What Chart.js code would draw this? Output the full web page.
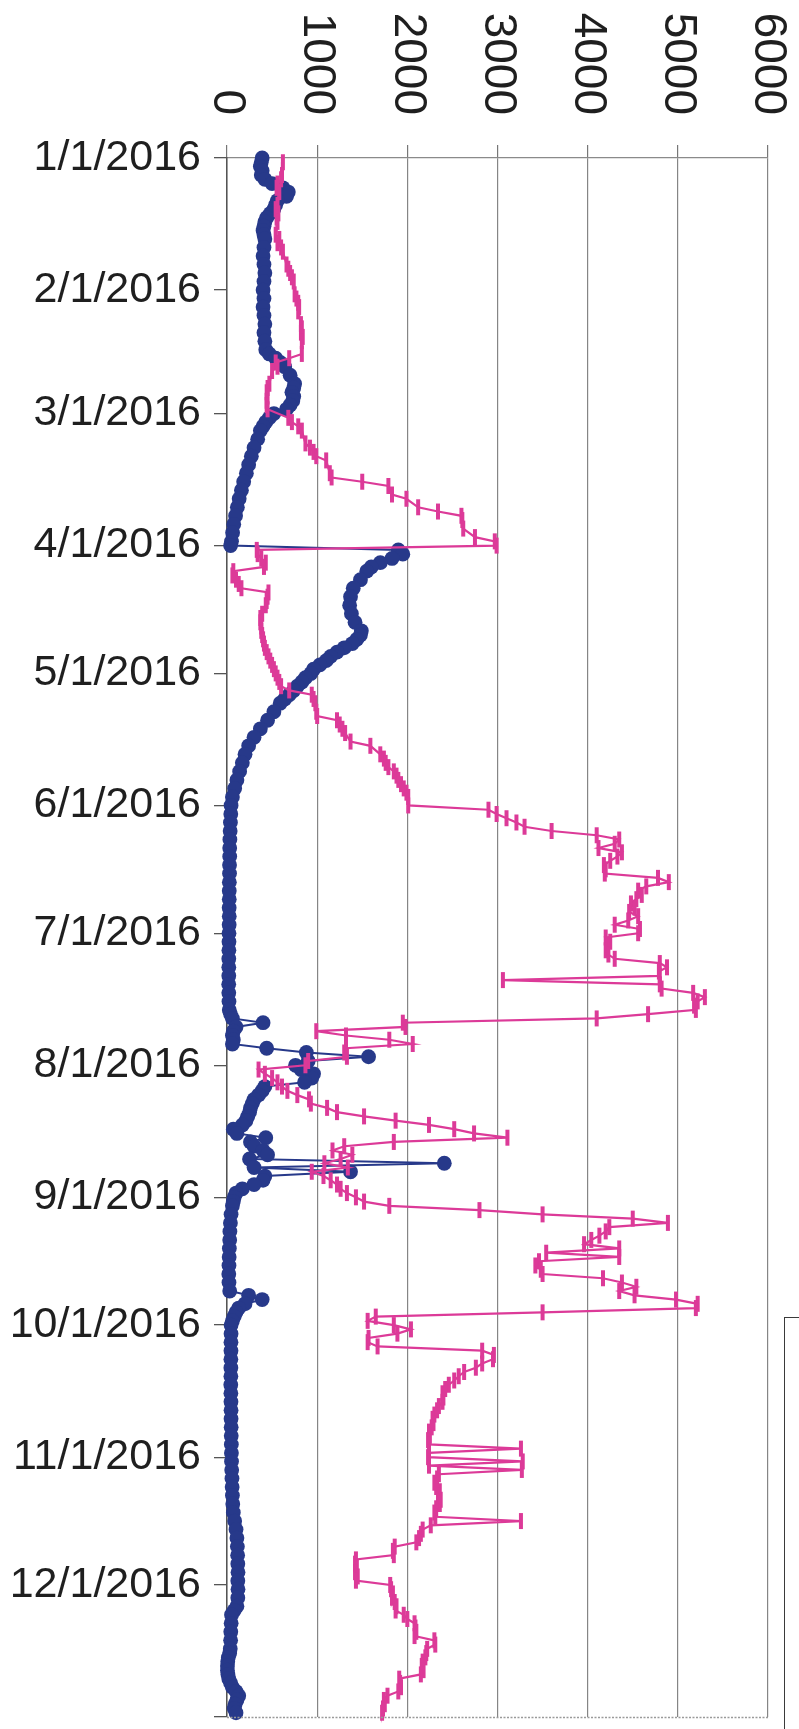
<!DOCTYPE html>
<html>
<head>
<meta charset="utf-8">
<script src="https://cdn.jsdelivr.net/npm/chart.js@4.4.1/dist/chart.umd.min.js"></script>
<style>
  html, body { margin: 0; padding: 0; background: #ffffff; }
  #wrap { position: relative; width: 799px; height: 1729px; overflow: hidden; }
  canvas { display: block; }
  #legendBox { position: absolute; left: 784px; top: 1317px; width: 60px; height: 500px; border: 1.5px solid #3a3a3a; background: #fff; }
</style>
</head>
<body>
<div id="wrap">
  <canvas id="c" width="799" height="1729"></canvas>
  <div id="legendBox"></div>
</div>
<script>
// ---- DATA ----
const YEAR = 2016;
const monthTickLabels = ['1/1/2016','2/1/2016','3/1/2016','4/1/2016','5/1/2016','6/1/2016',
  '7/1/2016','8/1/2016','9/1/2016','10/1/2016','11/1/2016','12/1/2016'];
const valueTicks = [0, 1000, 2000, 3000, 4000, 5000, 6000];

const blueDates = ['1/1','1/2','1/3','1/4','1/5','1/6','1/7','1/8','1/9','1/10','1/11','1/12','1/13','1/14','1/15','1/16','1/17','1/18','1/19','1/20','1/22','1/24','1/26','1/28','1/30',
  '2/1','2/3','2/5','2/7','2/9','2/11','2/13','2/15','2/16','2/17','2/18','2/19','2/21','2/23','2/24','2/25','2/26','2/27','2/28','2/29',
  '3/1','3/2','3/3','3/4','3/5','3/7','3/9','3/11','3/13','3/15','3/17','3/19','3/21','3/23','3/25','3/27','3/29','3/31',
  '4/1','4/2','4/3','4/4','4/5','4/6','4/7','4/9','4/11','4/13','4/15','4/17','4/19','4/21','4/22','4/23','4/24','4/25','4/26','4/27','4/28','4/29','4/30',
  '5/1','5/2','5/3','5/4','5/5','5/6','5/7','5/8','5/10','5/12','5/14','5/16','5/18','5/20','5/22','5/24','5/26','5/28','5/30',
  '6/1','6/3','6/5','6/7','6/9','6/11','6/13','6/15','6/17','6/19','6/21','6/23','6/25','6/27','6/29',
  '7/1','7/3','7/5','7/7','7/9','7/11','7/13','7/15','7/17','7/19','7/20','7/21','7/22','7/23','7/24','7/25','7/26','7/27','7/28','7/29','7/30','7/31',
  '8/1','8/2','8/3','8/4','8/5','8/6','8/7','8/8','8/9','8/10','8/11','8/12','8/13','8/14','8/15','8/16','8/17','8/18','8/19','8/20','8/21','8/22','8/23','8/24','8/25','8/26','8/27','8/28','8/29','8/30','8/31',
  '9/1','9/2','9/3','9/5','9/7','9/9','9/11','9/13','9/15','9/17','9/19','9/21','9/23','9/24','9/25','9/26','9/27','9/28','9/29','9/30',
  '10/1','10/3','10/5','10/7','10/9','10/11','10/13','10/15','10/17','10/19','10/21','10/23','10/25','10/27','10/29','10/31',
  '11/2','11/4','11/6','11/8','11/10','11/12','11/14','11/16','11/18','11/20','11/22','11/24','11/26','11/28','11/30',
  '12/2','12/4','12/6','12/7','12/8','12/10','12/12','12/14','12/16','12/17','12/18','12/19','12/20','12/21','12/22','12/23','12/24','12/25','12/26','12/27','12/28','12/29','12/30','12/31'];
const blueValues = [390,380,370,390,380,420,500,620,680,660,560,540,520,480,440,420,410,400,410,420,410,400,410,420,410,
  400,410,400,410,420,410,420,430,470,540,590,640,700,750,740,720,740,730,700,660,
  520,470,430,400,370,340,300,270,240,215,185,160,135,115,95,75,62,50,
  40,1900,1950,1830,1700,1600,1550,1480,1400,1370,1360,1380,1420,1490,1480,1440,1390,1300,1220,1150,1100,1030,960,
  930,870,830,780,740,690,640,590,520,450,370,300,240,200,170,140,110,85,60,
  45,42,38,35,32,30,30,28,28,26,25,25,24,25,24,
  22,22,21,20,20,20,19,20,22,25,40,60,400,100,70,60,70,60,440,880,1570,900,
  760,820,960,940,860,420,390,350,300,280,260,250,230,210,170,70,110,430,260,300,400,450,250,2410,300,1370,420,400,300,170,100,
  80,70,60,45,38,32,30,26,24,22,20,22,30,240,390,200,130,100,80,60,
  45,45,44,44,43,43,43,42,43,44,45,45,46,47,48,49,
  50,52,55,57,60,64,70,85,100,110,115,118,120,122,120,
  122,120,110,80,50,46,42,40,36,30,15,8,5,5,10,20,40,60,100,130,110,90,80,100];

const pinkDates = ['1/2','1/5','1/6','1/7','1/8','1/9','1/12','1/13','1/14','1/15','1/16','1/19','1/20','1/21','1/22','1/23','1/26','1/27','1/28','1/29','1/30',
  '2/2','2/3','2/4','2/5','2/6','2/9','2/10','2/11','2/12','2/13','2/16','2/17','2/18','2/19','2/20','2/23','2/24','2/25','2/26','2/27','2/28','2/29',
  '3/2','3/3','3/4','3/5','3/8','3/9','3/10','3/11','3/12','3/15','3/16','3/17','3/18','3/20','3/21','3/23','3/24','3/25','3/26','3/28','3/30','3/31',
  '4/1','4/2','4/3','4/4','4/5','4/6','4/7','4/8','4/9','4/10','4/11','4/12','4/13','4/14','4/15','4/17','4/18','4/19','4/20','4/21','4/22','4/23','4/24','4/25','4/26','4/27','4/28','4/29','4/30',
  '5/1','5/2','5/3','5/4','5/5','5/6','5/7','5/8','5/10','5/11','5/12','5/13','5/14','5/15','5/17','5/18','5/20','5/21','5/22','5/23','5/24','5/25','5/26','5/27','5/28','5/29','5/30',
  '6/1','6/2','6/3','6/4','6/5','6/6','6/7','6/8','6/9','6/10','6/11','6/12','6/13','6/14','6/15','6/16','6/17','6/18','6/19','6/20','6/21','6/22','6/23','6/24','6/25','6/26','6/27','6/28','6/29','6/30',
  '7/1','7/2','7/3','7/4','7/5','7/6','7/7','7/8','7/9','7/10','7/11','7/12','7/13','7/14','7/15','7/16','7/17','7/18','7/19','7/20','7/21','7/22','7/23','7/24','7/25','7/26','7/27','7/28','7/29','7/30','7/31',
  '8/1','8/2','8/3','8/4','8/5','8/6','8/7','8/8','8/9','8/10','8/11','8/12','8/13','8/14','8/15','8/16','8/17','8/18','8/19','8/20','8/21','8/22','8/23','8/24','8/25','8/26','8/27','8/28','8/29','8/30','8/31',
  '9/1','9/2','9/3','9/4','9/5','9/6','9/7','9/8','9/9','9/10','9/11','9/12','9/13','9/14','9/15','9/16','9/17','9/18','9/19','9/20','9/21','9/22','9/23','9/24','9/25','9/26','9/27','9/28','9/29','9/30',
  '10/1','10/2','10/3','10/4','10/5','10/6','10/7','10/8','10/9','10/10','10/11','10/12','10/13','10/14','10/15','10/16','10/17','10/18','10/19','10/20','10/21','10/22','10/23','10/24','10/25','10/26','10/27','10/28','10/29','10/30','10/31',
  '11/1','11/2','11/3','11/4','11/5','11/6','11/7','11/8','11/9','11/10','11/11','11/12','11/13','11/14','11/15','11/16','11/17','11/18','11/19','11/20','11/21','11/22','11/23','11/24','11/25','11/26','11/27','11/28','11/29','11/30',
  '12/1','12/2','12/3','12/4','12/5','12/6','12/7','12/8','12/9','12/10','12/11','12/12','12/13','12/14','12/15','12/16','12/17','12/18','12/19','12/20','12/21','12/22','12/23','12/24','12/25','12/26','12/27','12/28','12/29','12/30','12/31'];
const pinkValues = [620,610,600,560,550,580,560,540,570,550,560,540,580,560,600,620,660,680,700,720,740,
  750,770,790,800,790,820,830,820,840,830,830,690,540,560,500,470,450,440,450,440,440,450,
  680,720,790,830,870,920,960,990,1100,1140,1160,1500,1790,1830,1990,2120,2340,2600,2610,2620,2750,2970,
  2990,330,340,380,430,410,70,60,100,130,160,460,450,440,430,390,370,370,380,380,390,400,410,420,440,460,480,500,520,
  540,560,580,600,690,940,960,980,990,1000,1220,1250,1280,1310,1370,1590,1700,1740,1760,1790,1850,1880,1900,1930,1960,1990,2010,
  2010,2900,2990,3100,3210,3300,3600,4100,4350,4300,4120,4380,4330,4250,4180,4200,4190,4780,4900,4650,4560,4600,4540,4480,4520,4460,4560,4450,4300,4580,
  4560,4200,4250,4220,4200,4230,4300,4800,4880,4790,4800,3060,4800,4820,5170,5300,5220,5180,5200,4670,4100,1950,1980,990,1320,1800,2060,1320,1300,1330,900,
  870,350,420,500,560,610,670,780,910,930,1110,1220,1520,1870,2240,2520,2740,3110,1850,1300,1170,1390,1260,1080,1340,940,1070,1150,1220,1260,1330,
  1430,1520,1800,2800,3500,4500,4890,4240,4200,4130,4040,3960,4350,3540,4350,3460,3420,3480,3500,4170,4380,4540,4350,4520,4980,5220,5200,3500,1650,1560,
  1850,2040,1890,1570,1560,1670,2830,2960,2950,2830,2760,2630,2570,2520,2460,2420,2390,2400,2390,2350,2330,2300,2280,2290,2270,2240,2250,2230,2240,3260,2240,
  2230,3280,2240,3270,2350,2330,2300,2320,2360,2340,2370,2360,2320,2300,2310,3260,2260,2170,2150,2130,2100,1860,1840,1850,1430,1420,1440,1420,1450,1430,
  1810,1820,1840,1830,1860,1880,1870,1960,2000,2080,2090,2100,2080,2300,2310,2220,2210,2200,2170,2160,2180,2150,1910,1920,1930,1900,1780,1740,1750,1730,1720];

// ---- helpers ----
function dayOfYear(md) {
  const [m, d] = md.split('/').map(Number);
  return Math.round((Date.UTC(YEAR, m - 1, d) - Date.UTC(YEAR, 0, 1)) / 86400000);
}
const monthTickDays = monthTickLabels.map(s => dayOfYear(s.slice(0, s.lastIndexOf('/'))));
const axisEndDay = Math.round((Date.UTC(YEAR + 1, 0, 1) - Date.UTC(YEAR, 0, 1)) / 86400000);

const bluePoints = blueDates.map((d, i) => ({ x: blueValues[i], y: dayOfYear(d) }));
const pinkPoints = pinkDates.map((d, i) => ({ x: pinkValues[i], y: dayOfYear(d) }));

const BLUE = '#27398a';
const PINK = '#dc3a98';
const TEXT = '#1f1f1f';
const FONT = "'Liberation Sans', Arial, sans-serif";

const decorPlugin = {
  id: 'decor',
  afterDraw(chart) {
    const ctx = chart.ctx;
    const xs = chart.scales.x;
    const ca = chart.chartArea;
    ctx.save();
    // bottom border of plot area (dotted gray, like the scan)
    ctx.strokeStyle = '#9a9a9a';
    ctx.lineWidth = 1.3;
    ctx.setLineDash([2, 1.5]);
    ctx.beginPath();
    ctx.moveTo(ca.left, ca.bottom + 0.5);
    ctx.lineTo(ca.right, ca.bottom + 0.5);
    ctx.stroke();
    ctx.setLineDash([]);
    // rotated value-axis labels (read top to bottom)
    ctx.fillStyle = TEXT;
    ctx.font = '46px ' + FONT;
    ctx.textAlign = 'right';
    ctx.textBaseline = 'middle';
    valueTicks.forEach(v => {
      const px = xs.getPixelForValue(v);
      ctx.save();
      ctx.translate(px, ca.top - 43);
      ctx.rotate(Math.PI / 2);
      ctx.fillText(String(v), 0, 0);
      ctx.restore();
    });
    ctx.restore();
  }
};

new Chart(document.getElementById('c'), {
  type: 'scatter',
  data: {
    datasets: [
      {
        label: 'Series 2',
        data: pinkPoints,
        showLine: true,
        borderColor: PINK,
        borderWidth: 2.2,
        pointStyle: 'line',
        pointRotation: 90,
        pointRadius: 8,
        pointBorderWidth: 4,
        pointBorderColor: PINK,
        pointBackgroundColor: PINK,
        clip: false
      },
      {
        label: 'Series 1',
        data: bluePoints,
        showLine: true,
        borderColor: BLUE,
        borderWidth: 2,
        pointStyle: 'circle',
        pointRadius: 7.4,
        pointBorderWidth: 0,
        pointBackgroundColor: BLUE,
        pointBorderColor: BLUE,
        clip: false
      }
    ]
  },
  options: {
    responsive: false,
    animation: false,
    devicePixelRatio: 1,
    layout: { padding: { left: 0, top: 0, right: 31, bottom: 7 } },
    plugins: { legend: { display: false }, tooltip: { enabled: false } },
    scales: {
      x: {
        type: 'linear',
        position: 'top',
        min: valueTicks[0],
        max: valueTicks[valueTicks.length - 1],
        afterBuildTicks: s => { s.ticks = valueTicks.map(v => ({ value: v })); },
        afterFit: s => { s.height = 158; s.paddingLeft = 0; s.paddingRight = 0; },
        ticks: { display: false },
        grid: { color: '#858585', lineWidth: 1.2, drawTicks: true, tickLength: 13, tickColor: '#777' },
        border: { display: true, color: '#8a8a8a', width: 1.3 }
      },
      y: {
        type: 'linear',
        reverse: true,
        min: 0,
        max: axisEndDay,
        afterBuildTicks: s => { s.ticks = monthTickDays.concat([axisEndDay]).map(v => ({ value: v })); },
        afterFit: s => { s.width = 227; s.paddingTop = 0; s.paddingBottom = 0; },
        ticks: {
          padding: 13,
          color: TEXT,
          font: { family: FONT, size: 43 },
          callback: v => { const i = monthTickDays.indexOf(v); return i >= 0 ? monthTickLabels[i] : ''; }
        },
        grid: { drawOnChartArea: false, drawTicks: true, tickLength: 13, color: '#555', lineWidth: 1.3 },
        border: { display: true, color: '#555', width: 1.5 }
      }
    }
  },
  plugins: [decorPlugin]
});
</script>
</body>
</html>
